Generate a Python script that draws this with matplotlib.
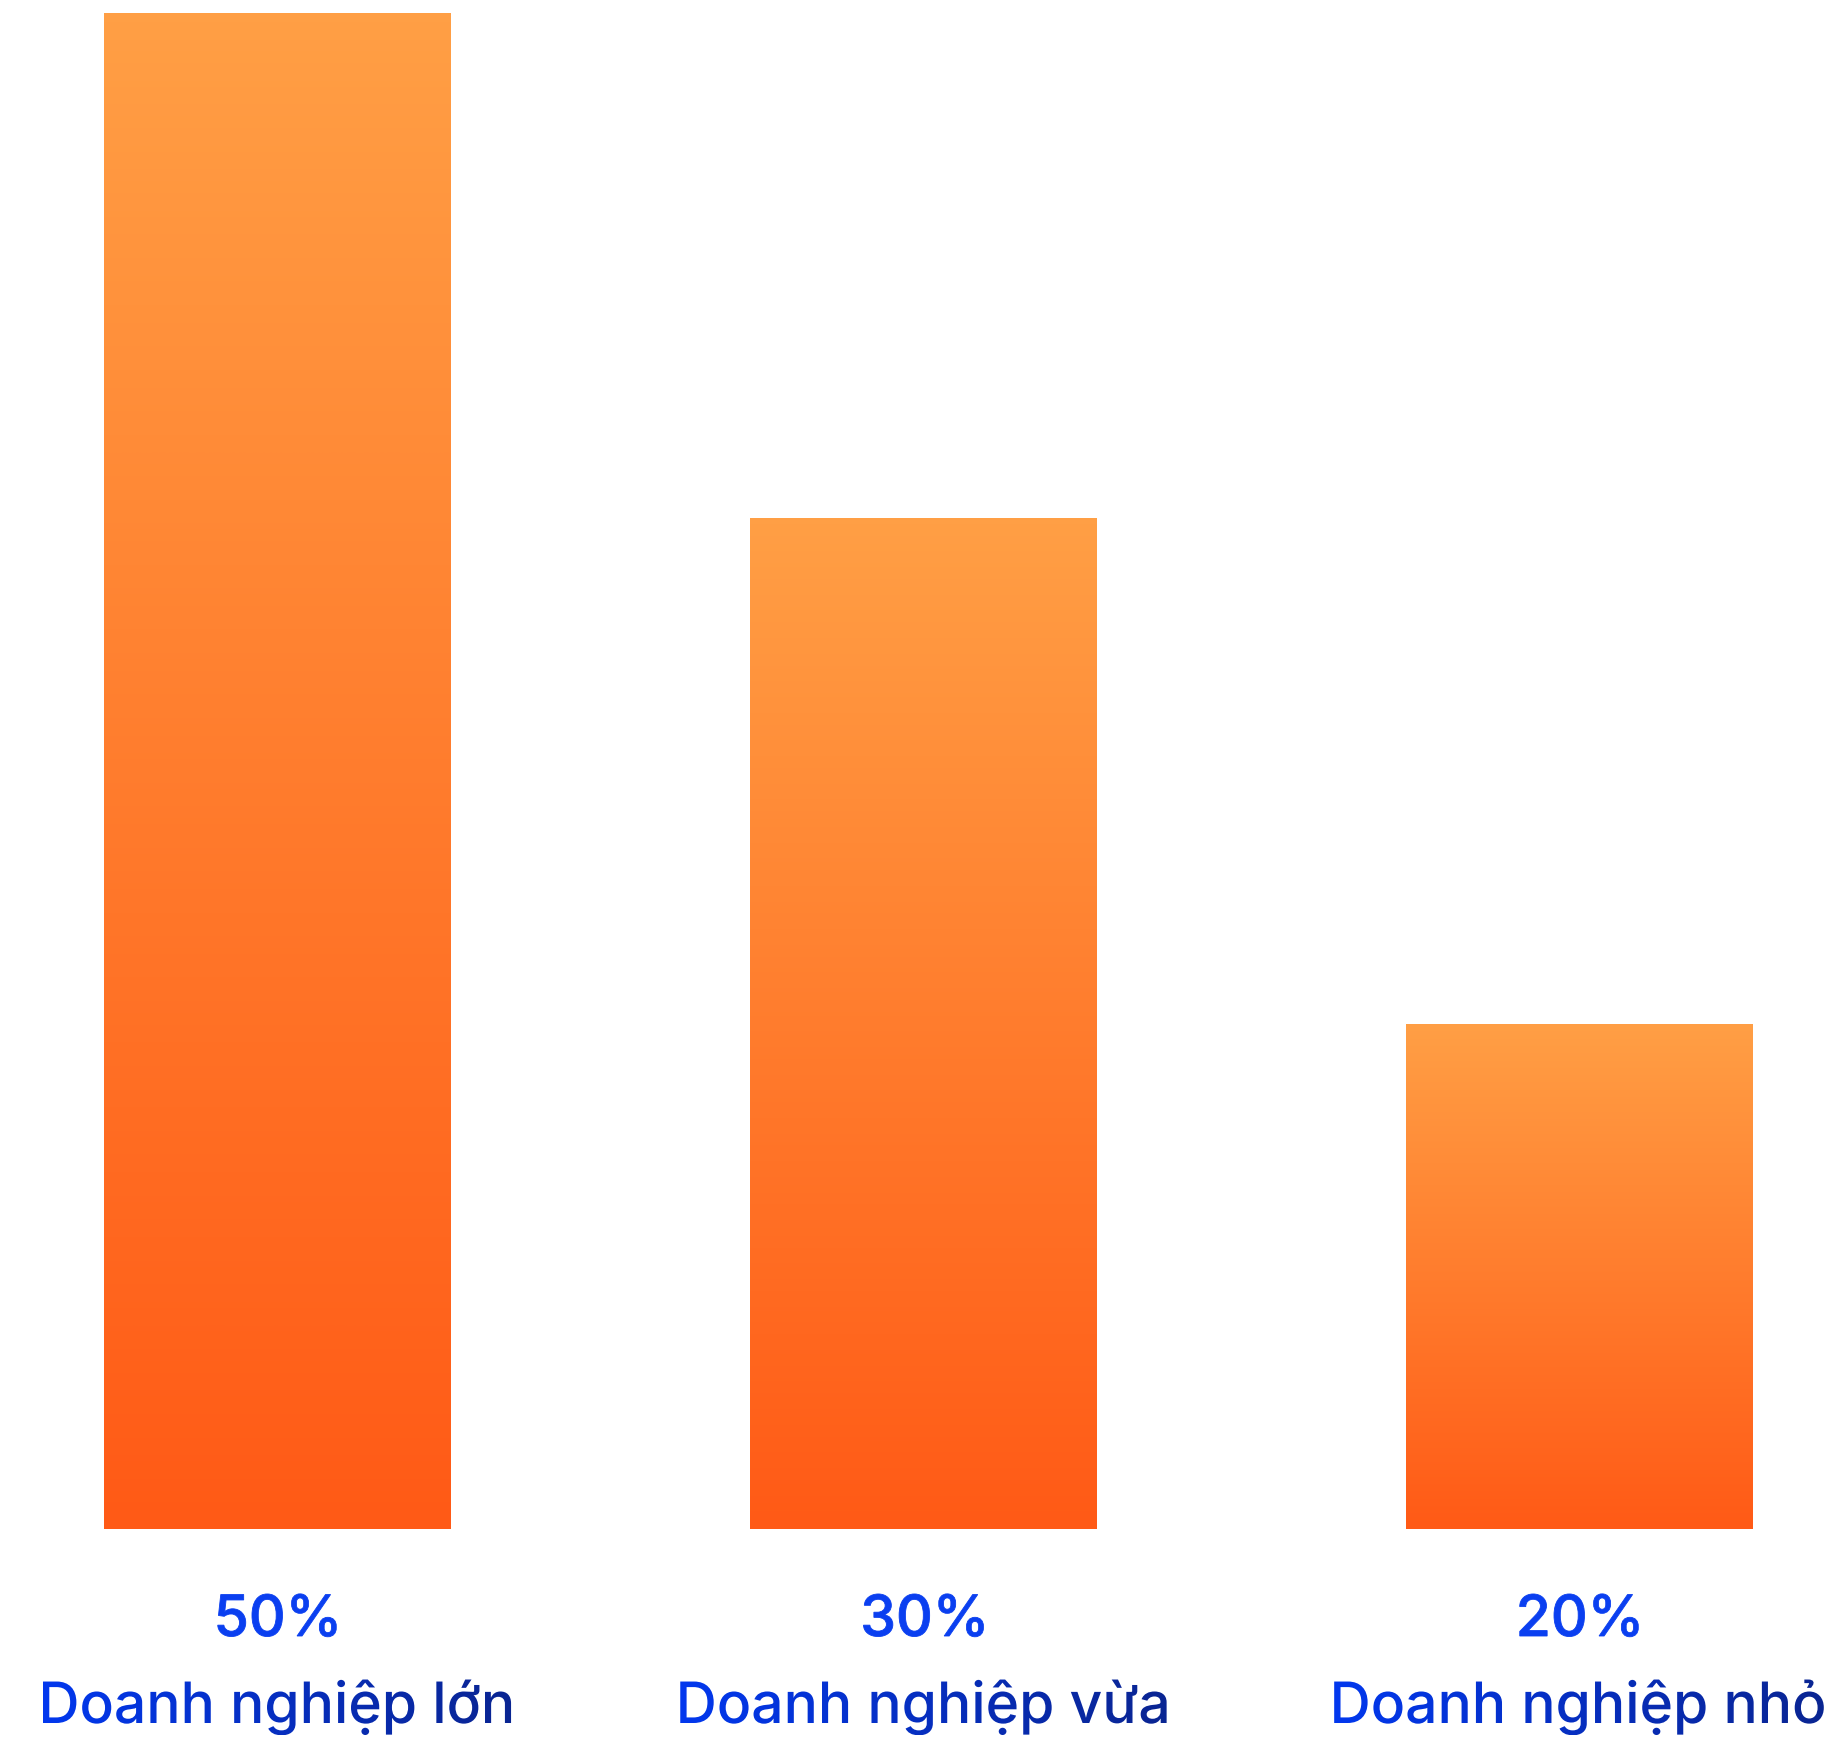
import numpy as np
import matplotlib
matplotlib.use("Agg")
import matplotlib.pyplot as plt
from matplotlib.colors import LinearSegmentedColormap
from matplotlib.font_manager import FontProperties
from matplotlib.textpath import TextPath
from matplotlib.patches import PathPatch
from matplotlib.transforms import Affine2D

OUTPUT_FILE_NAME = "out.png"

categories = ["Doanh nghiệp lớn", "Doanh nghiệp vừa", "Doanh nghiệp nhỏ"]
percent_labels = ["50%", "30%", "20%"]
bar_heights = [3.0, 2.0, 1.0]   # drawn heights (relative), as in the picture

BAR_TOP = "#FF9F45"
BAR_BOTTOM = "#FF5A16"
PCT_COLOR = "#0A3FF0"
LABEL_LEFT = "#0238EE"
LABEL_RIGHT = "#0A2592"

W, H = 1839, 1737
fig = plt.figure(figsize=(W / 100, H / 100), dpi=100)
ax = fig.add_axes([0, 0, 1, 1])
ax.axis("off")

# bar slots (middle one sits a touch left of centre in the original)
x = np.array([0.0, 0.993, 2.0])
width = 0.533
bars = ax.bar(x, bar_heights, width=width, color="none", edgecolor="none")

# vertical gradient inside each bar
bar_cmap = LinearSegmentedColormap.from_list("bar", [BAR_BOTTOM, BAR_TOP])
grad = np.linspace(0, 1, 256).reshape(-1, 1)
for rect in bars:
    x0, y0 = rect.get_x(), rect.get_y()
    im = ax.imshow(grad, cmap=bar_cmap, aspect="auto", origin="lower",
                   extent=[x0, x0 + rect.get_width(), y0, y0 + rect.get_height()],
                   interpolation="bicubic", zorder=2)
    im.set_clip_path(rect)

ax.set_xlim(-0.4255, 2.3994)
ax.set_ylim(-0.4116, 3.026)

# overlay axes in pixel units for the gradient text
ov = fig.add_axes([0, 0, 1, 1])
ov.set_xlim(0, W)
ov.set_ylim(0, H)
ov.axis("off")
ov.patch.set_alpha(0)

fig.canvas.draw()
to_px = ax.transData + ov.transData.inverted()

pct_font = FontProperties(family=["Inter", "DejaVu Sans"], weight="medium")
lab_font = FontProperties(family=["Inter", "DejaVu Sans"], weight="medium")
label_cmap = LinearSegmentedColormap.from_list("lab", [LABEL_LEFT, LABEL_RIGHT])
hgrad = np.linspace(0, 1, 256).reshape(1, -1)

for xi, pct, cat in zip(x, percent_labels, categories):
    cx, _ = to_px.transform((xi, 0))

    # percentage
    tp = TextPath((0, 0), pct, size=57, prop=pct_font)
    bb = tp.get_extents()
    tp = tp.transformed(Affine2D().translate(cx - (bb.x0 + bb.x1) / 2, 101))
    ov.add_patch(PathPatch(tp, facecolor=PCT_COLOR, edgecolor=PCT_COLOR, linewidth=0.6))

    # category label with horizontal gradient
    tp = TextPath((0, 0), cat, size=57, prop=lab_font)
    bb = tp.get_extents()
    tp = tp.transformed(Affine2D().translate(cx - (bb.x0 + bb.x1) / 2, 14))
    bb = tp.get_extents()
    patch = PathPatch(tp, facecolor="none", edgecolor="none")
    ov.add_patch(patch)
    im = ov.imshow(hgrad, cmap=label_cmap, aspect="auto",
                   extent=[bb.x0, bb.x1, bb.y0, bb.y1], zorder=3)
    im.set_clip_path(patch)

ov.set_xlim(0, W)
ov.set_ylim(0, H)

plt.savefig(OUTPUT_FILE_NAME, dpi=100, facecolor="white")
